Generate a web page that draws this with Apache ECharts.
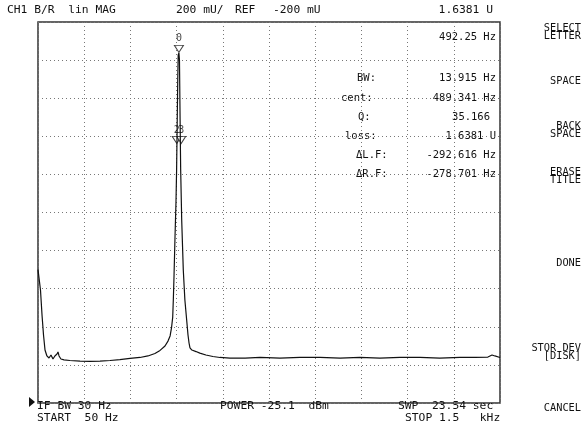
<!DOCTYPE html>
<html>
<head>
<meta charset="utf-8">
<script src="https://cdn.jsdelivr.net/npm/echarts@6/dist/echarts.min.js"></script>
<style>
  html, body { margin: 0; padding: 0; background: #fff; }
  #main { width: 584px; height: 429px; }
</style>
</head>
<body>
<div id="main"></div>
<script>
// trace: frequency (Hz) and magnitude (U)
var freqs = [50, 57.8, 62.6, 67.3, 72, 78, 84.5, 90.8, 97, 103, 109.6, 112.8, 116, 122, 131.6,
  150, 182, 213, 244.6, 276, 307, 338.8, 370, 395, 417, 433, 448.6, 458, 464.6, 469, 472.8,
  474.7, 477, 480, 483, 485, 487, 488.6, 490, 492.25, 494, 496, 497.8, 501, 506, 511, 516.6,
  520.8, 524, 527, 529.4, 533, 546, 558, 577, 599, 621, 652.6, 700, 747, 809.5, 872, 935,
  998, 1060.6, 1123, 1186, 1249, 1311, 1374, 1421, 1462, 1475, 1484, 1500];
var mags = [0.50, 0.393, 0.262, 0.157, 0.078, 0.047, 0.036, 0.052, 0.031, 0.047, 0.057, 0.068,
  0.047, 0.031, 0.026, 0.023, 0.020, 0.018, 0.020, 0.023, 0.028, 0.034, 0.039, 0.047, 0.060,
  0.076, 0.099, 0.125, 0.152, 0.194, 0.251, 0.341, 0.472, 0.671, 0.850, 1.023, 1.286, 1.496,
  1.627, 1.6381, 1.60, 1.286, 1.023, 0.761, 0.498, 0.341, 0.236, 0.157, 0.115, 0.089, 0.099,
  0.078, 0.070, 0.062, 0.052, 0.044, 0.039, 0.036, 0.036, 0.039, 0.036, 0.039, 0.039, 0.036,
  0.039, 0.036, 0.039, 0.039, 0.036, 0.039, 0.039, 0.041, 0.052, 0.047, 0.039];

// markers: 0 = peak, 2/3 = bandwidth points
var markerNames = ['0', '2', '3'];
var markerFreqs = [492.25, 485.4, 499.3];
var markerMags = [1.6381, 1.16, 1.16];

var readoutLabels = ['BW:', 'cent:', 'Q:', 'loss:', 'ΔL.F:', 'ΔR.F:'];
var readoutValues = ['13.915 Hz', '489.341 Hz', '35.166', '1.6381 U', '-292.616 Hz', '-278.701 Hz'];
var softkeys = ['SELECT\nLETTER', 'SPACE', 'BACK\nSPACE', 'ERASE\nTITLE', 'DONE', 'STOR DEV\n[DISK]', 'CANCEL'];

var font = '"DejaVu Sans Mono", monospace';
var myChart = echarts.init(document.getElementById('main'));

var texts = [];
function txt(x, y, s, align, size) {
	texts.push({
		type: 'text', x: x, y: y,
		style: {
			text: s, x: 0, y: 0, fill: '#111', font: (size || 11.3) + 'px ' + font,
			align: align || 'left', verticalAlign: 'middle', lineHeight: 8
		}
	});
}
// header
txt(7, 10, 'CH1 B/R  lin MAG');
txt(176, 10, '200 mU/');
txt(235, 10, 'REF');
txt(273, 10, '-200 mU');
txt(493, 10, '1.6381 U', 'right');
// marker readout
txt(496, 37, '492.25 Hz', 'right', 10.5);
var labelX = [357, 341, 358, 345, 356, 356];
var rowY = [78, 98, 117, 136, 155, 174];
var valRight = [496, 496, 490, 496, 496, 496];
readoutLabels.forEach(function (s, i) {
	txt(labelX[i], rowY[i], s, 'left', 10.5);
	txt(valRight[i], rowY[i], readoutValues[i], 'right', 10.5);
});
// bottom annotations
txt(37, 406, 'IF BW 30 Hz');
txt(37, 418, 'START  50 Hz');
txt(220, 406, 'POWER -25.1  dBm');
txt(398, 406, 'SWP  23.54 sec');
txt(405, 418, 'STOP 1.5   kHz');
// softkeys
var keyY = [32, 81, 130, 176, 263, 352, 408];
softkeys.forEach(function (s, i) {
	txt(581, keyY[i], s, 'right', 10.3);
});

option = {
	backgroundColor: '#fff',
	animation: false,
	grid: {
		left: 38, top: 22, width: 462, height: 381,
		show: true, borderColor: '#333', borderWidth: 1.5
	},
	xAxis: [
		{ type: 'value', min: 50, max: 1500, show: false },
		{
			type: 'value', min: 0, max: 10, interval: 1,
			axisLine: { show: false }, axisTick: { show: false }, axisLabel: { show: false },
			splitLine: { lineStyle: { color: '#777', type: [1, 3], width: 1 } }
		}
	],
	yAxis: [
		{ type: 'value', min: -0.2, max: 1.8, show: false },
		{
			type: 'value', min: 0, max: 10, interval: 1,
			axisLine: { show: false }, axisTick: { show: false }, axisLabel: { show: false },
			splitLine: { lineStyle: { color: '#777', type: [1, 3], width: 1 } }
		}
	],
	graphic: texts.concat([
		{ type: 'polygon', shape: { points: [[29, 397], [35, 402], [29, 407]] }, style: { fill: '#111' } }
	]),
	series: [
		{
			name: 'trace',
			type: 'line',
			xAxisIndex: 0, yAxisIndex: 0,
			showSymbol: false,
			lineStyle: { color: '#111', width: 1.2 },
			data: freqs.map(function (f, i) { return [f, mags[i]]; })
		},
		{
			name: 'markers',
			type: 'scatter',
			xAxisIndex: 0, yAxisIndex: 0,
			symbol: 'triangle',
			symbolRotate: 180,
			symbolSize: [9, 7],
			symbolOffset: [0, -4],
			itemStyle: { color: '#fff', borderColor: '#111', borderWidth: 1 },
			label: {
				show: true, position: 'top', distance: 1,
				color: '#111', fontFamily: font, fontSize: 10,
				formatter: function (p) { return p.data.name; }
			},
			data: markerNames.map(function (n, i) {
				return { name: n, value: [markerFreqs[i], markerMags[i]] };
			})
		}
	]
};
myChart.setOption(option);
</script>
</body>
</html>
